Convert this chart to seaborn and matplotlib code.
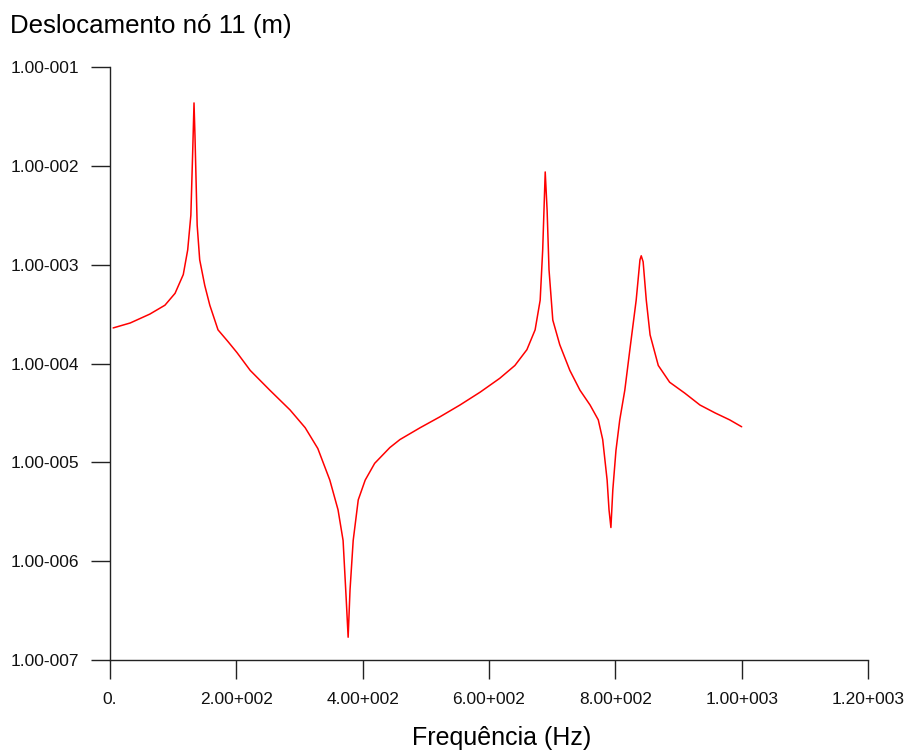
import numpy as np
import pandas as pd
import matplotlib
matplotlib.use("Agg")
import matplotlib.pyplot as plt
import seaborn as sns

# Frequency response
freq = [5, 32, 63, 87, 103, 116, 123, 128, 131, 133, 134.5, 138, 142, 150, 158,
        171, 187, 201, 222, 253, 285, 309, 329, 348, 361, 369, 374, 377, 380,
        385, 393, 404, 419, 443, 459, 491, 522, 554, 586, 617, 641, 660, 673,
        681, 685, 689, 692, 695, 701, 712, 728, 744, 760, 773, 780, 787, 790,
        793, 796, 801, 807, 815, 823, 833, 839, 841, 844, 849, 855, 868, 886,
        910, 934, 958, 981, 1000]
disp = [2.29e-4, 2.57e-4, 3.16e-4, 3.89e-4, 5.13e-4, 7.94e-4, 1.41e-3, 3.16e-3,
        1.45e-2, 4.33e-2, 2.04e-2, 2.51e-3, 1.12e-3, 6.17e-4, 3.89e-4, 2.19e-4,
        1.66e-4, 1.29e-4, 8.51e-5, 5.37e-5, 3.39e-5, 2.24e-5, 1.38e-5, 6.61e-6,
        3.31e-6, 1.62e-6, 4.07e-7, 1.70e-7, 5.13e-7, 1.62e-6, 4.17e-6, 6.61e-6,
        9.77e-6, 1.41e-5, 1.70e-5, 2.24e-5, 2.88e-5, 3.80e-5, 5.13e-5, 7.08e-5,
        9.55e-5, 1.38e-4, 2.19e-4, 4.37e-4, 1.41e-3, 8.67e-3, 3.55e-3, 8.91e-4,
        2.75e-4, 1.55e-4, 8.51e-5, 5.37e-5, 3.80e-5, 2.69e-5, 1.70e-5, 6.61e-6,
        3.31e-6, 2.19e-6, 5.25e-6, 1.32e-5, 2.69e-5, 5.37e-5, 1.38e-4, 4.37e-4,
        1.12e-3, 1.23e-3, 1.07e-3, 4.37e-4, 1.95e-4, 9.55e-5, 6.46e-5, 5.01e-5,
        3.80e-5, 3.16e-5, 2.69e-5, 2.29e-5]

xticks = [0, 200, 400, 600, 800, 1000, 1200]
xtick_labels = ["0.", "2.00+002", "4.00+002", "6.00+002", "8.00+002",
                "1.00+003", "1.20+003"]
yticks = [1e-1, 1e-2, 1e-3, 1e-4, 1e-5, 1e-6, 1e-7]
ytick_labels = ["1.00-001", "1.00-002", "1.00-003", "1.00-004", "1.00-005",
                "1.00-006", "1.00-007"]

df = pd.DataFrame({"freq": freq, "disp": disp})

sns.set_style("ticks")
plt.rcParams['font.family'] = ['Liberation Sans', 'DejaVu Sans']

fig = plt.figure(figsize=(9.07, 7.56), dpi=100)
ax = fig.add_axes([110/907, 96/756, 758/907, 593/756])

sns.lineplot(data=df, x="freq", y="disp", color="#ff0000", linewidth=1.1,
             estimator=None, sort=False, ax=ax)

ax.set_yscale("log")
ax.set_xlim(0, 1200)
ax.set_ylim(1e-7, 1e-1)
ax.set_xticks(xticks)
ax.set_xticklabels(xtick_labels)
ax.set_yticks(yticks)
ax.set_yticklabels(ytick_labels)
ax.minorticks_off()
ax.tick_params(axis="both", direction="out", length=14, width=1.0,
               color="#222222", labelsize=12.5, labelcolor="#111111")
ax.tick_params(axis="x", pad=9)
ax.tick_params(axis="y", pad=8)
ax.set_xlabel("")
ax.set_ylabel("")
sns.despine(ax=ax)
for side in ["left", "bottom"]:
    ax.spines[side].set_color("#222222")
    ax.spines[side].set_linewidth(1.0)

fig.text(10/907, 1 - 33/756, "Deslocamento nó 11 (m)", fontsize=18.6,
         color="black", ha="left", va="baseline")
fig.text(502/907, 1 - 745/756, "Frequência (Hz)", fontsize=18,
         color="black", ha="center", va="baseline")

fig.savefig("out.png", dpi=100)
